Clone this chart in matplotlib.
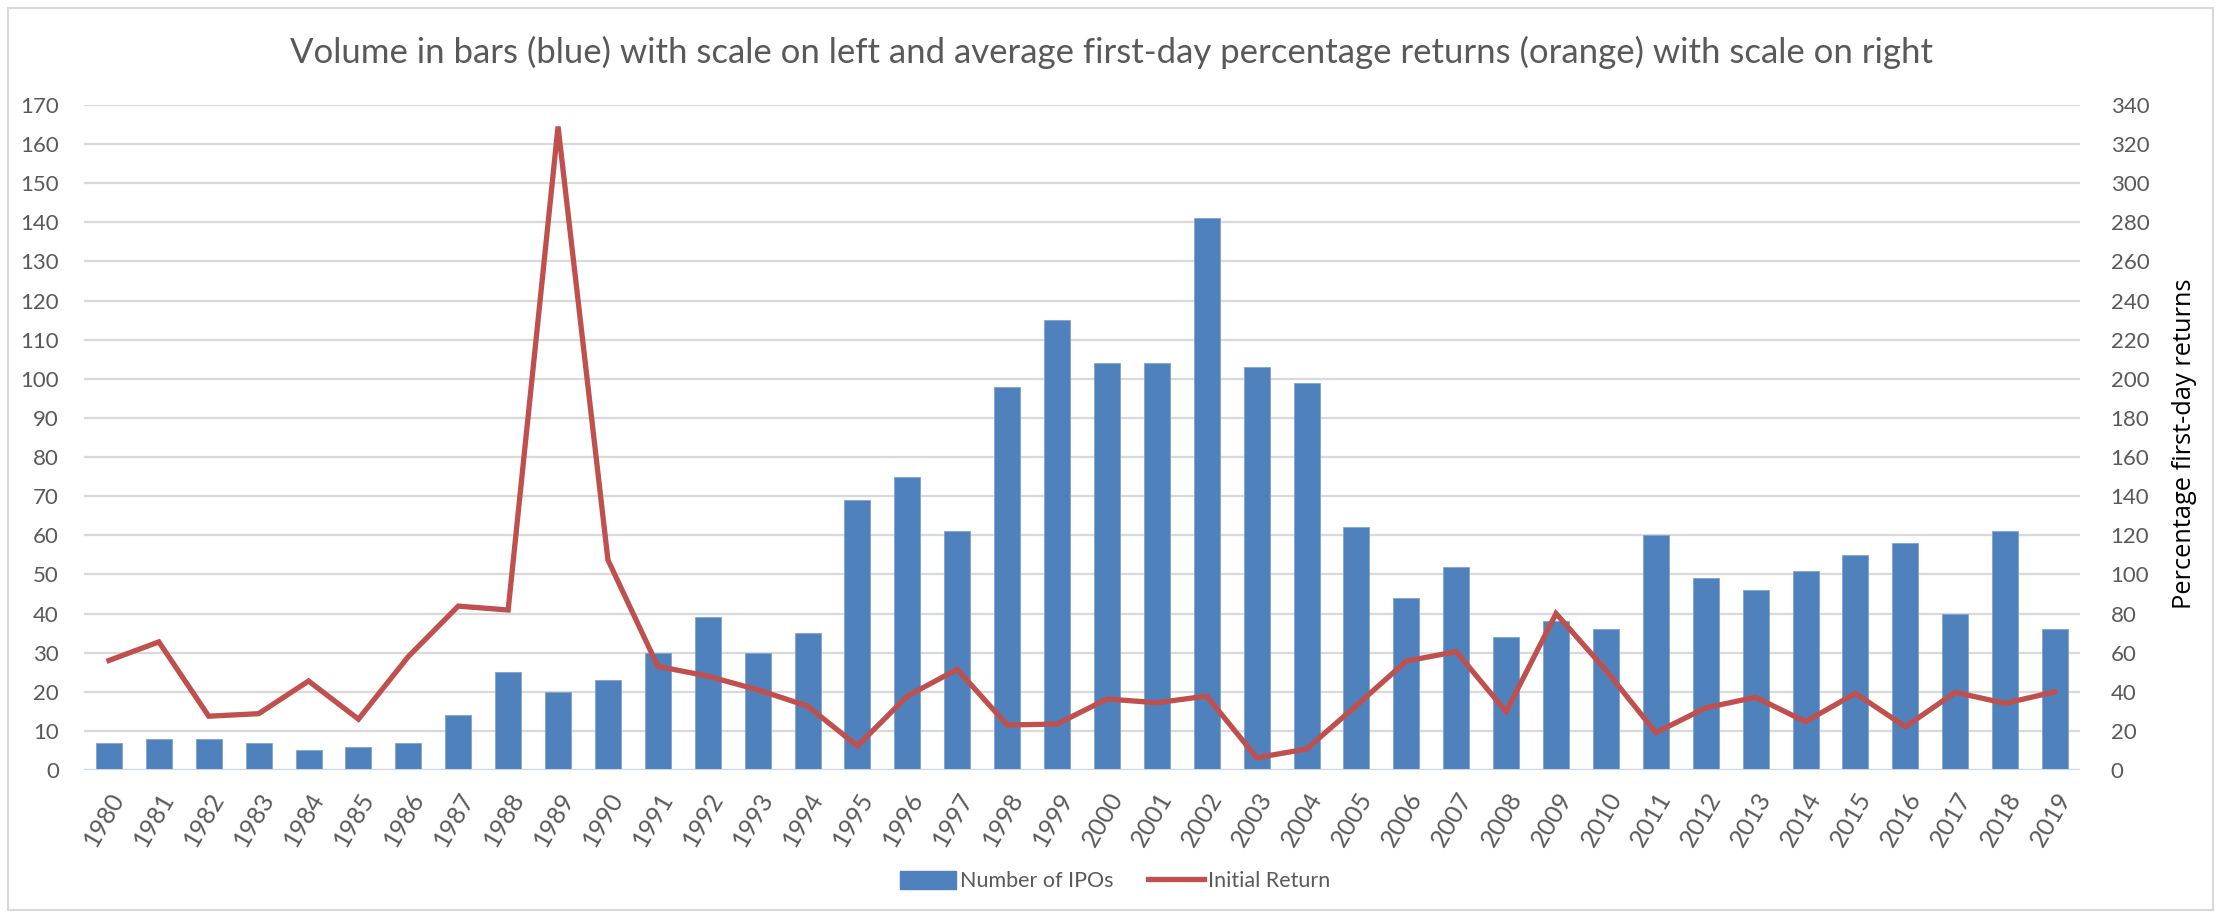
import matplotlib
matplotlib.use("Agg")
import matplotlib.pyplot as plt
from matplotlib.patches import Rectangle
from matplotlib.lines import Line2D
from matplotlib.patches import Patch

years = [str(y) for y in range(1980, 2020)]
num_ipos = [7, 8, 8, 7, 5, 6, 7, 14, 25, 20, 23, 30, 39, 30, 35,
            69, 75, 61, 98, 115, 104, 104, 141, 103, 99,
            62, 44, 52, 34, 38, 36, 60, 49, 46, 51, 55, 58, 40, 61, 36]
initial_return = [56, 65.5, 27.5, 28.8, 45.5, 26, 58, 83.8, 81.8, 329, 107.4,
                  53, 48, 41, 32.7, 12.3, 37.8, 51.5, 23, 23.5, 36.3, 34.4, 37.8,
                  6.3, 10.7, 33, 55.7, 60.5, 29.8, 80, 51, 19.1, 31.8, 37.2,
                  24.7, 39.2, 22.1, 39.7, 34.1, 40]

title = ("Volume in bars (blue) with scale on left and average first-day "
         "percentage returns (orange) with scale on right")
left_ticks = list(range(0, 171, 10))
right_ticks = list(range(0, 341, 20))
right_label = "Percentage first-day returns"
legend_labels = ["Number of IPOs", "Initial Return"]

BAR = "#4F81BD"
LINE = "#C0504D"
TXT = "#595959"
GRID = "#D9D9D9"

plt.rcParams['font.family'] = ['Lato', 'DejaVu Sans']

W, H = 2221, 916
fig = plt.figure(figsize=(W / 100, H / 100), dpi=100)
fig.patches.append(Rectangle((8 / W, 6 / H), (W - 16) / W, (H - 14) / H,
                             transform=fig.transFigure, fill=False,
                             edgecolor="#D9D9D9", linewidth=1.5))

l, r = 84 / W, 2080 / W
b, t = 1 - 770 / H, 1 - 105 / H
ax = fig.add_axes([l, b, r - l, t - b])
ax2 = ax.twinx()

x = list(range(len(years)))
ax.bar(x, num_ipos, width=0.52, color=BAR, edgecolor="#7FA3D0",
       linewidth=0.6, zorder=3)
ax.axhline(0, color="#C9D7EA", linewidth=1.5, zorder=3.5)
ax.set_xlim(-0.5, len(years) - 0.5)
ax.set_ylim(0, 170)
ax.set_yticks(left_ticks)
ax.yaxis.grid(True, color=GRID, linewidth=1.6, zorder=0)
ax.set_axisbelow(True)
ax.set_xticks(x)
ax.set_xticklabels(years, rotation=60, ha="right", va="top",
                   rotation_mode="anchor", fontsize=18, color=TXT)
ax.tick_params(axis="y", length=0, pad=18, labelsize=16, labelcolor=TXT)
ax.tick_params(axis="x", length=0, pad=13)
for s in ax.spines.values():
    s.set_visible(False)

ax2.plot(x, initial_return, color=LINE, linewidth=3.8, zorder=4,
         solid_joinstyle="miter")
ax2.set_ylim(0, 340)
ax2.set_yticks(right_ticks)
ax2.tick_params(axis="y", length=0, pad=22, labelsize=16, labelcolor=TXT)
for s in ax2.spines.values():
    s.set_visible(False)
ax2.set_ylabel(right_label, fontsize=18.3, color="#000000", labelpad=14,
               family=['Open Sans', 'DejaVu Sans'])
ax2.yaxis.set_label_coords(1.046, 0.49)

fig.text(1112 / W, 1 - 52 / H, title, ha="center", va="center",
         fontsize=25.0, color=TXT)

handles = [Patch(facecolor=BAR, edgecolor=BAR),
           Line2D([0], [0], color=LINE, linewidth=3.8)]
fig.legend(handles, legend_labels, loc="center", ncol=2,
           bbox_to_anchor=(1115 / W, 1 - 881 / H), frameon=False,
           fontsize=15.5, labelcolor=TXT, handlelength=2.6, handleheight=0.95,
           handletextpad=0.2, columnspacing=1.6)

fig.savefig("out.png", dpi=100)
